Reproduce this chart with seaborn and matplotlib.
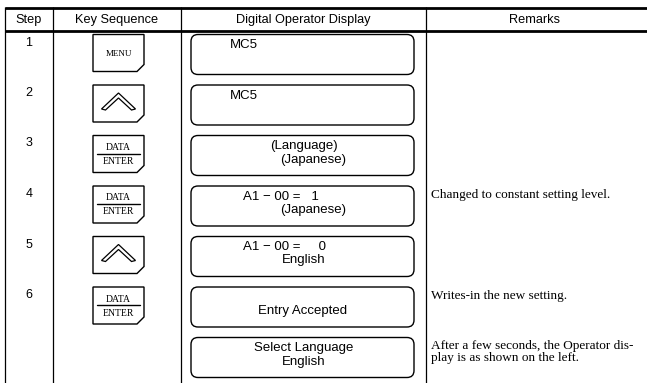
import matplotlib
matplotlib.use("Agg")
import matplotlib.pyplot as plt
import seaborn as sns
from matplotlib.patches import FancyBboxPatch, Polygon

# table content
headers = ["Step", "Key Sequence", "Digital Operator Display", "Remarks"]
steps = ["1", "2", "3", "4", "5", "6", ""]
keys = ["MENU", "UP", "DATA/ENTER", "DATA/ENTER", "UP", "DATA/ENTER", ""]
display_lines = [
    ["MC5", ""],
    ["MC5", ""],
    ["(Language)", "(Japanese)"],
    ["A1 \u2212 00 =   1", "(Japanese)"],
    ["A1 \u2212 00 =     0", "English"],
    ["", "Entry Accepted"],
    ["Select Language", "English"],
]
remarks = [
    "",
    "",
    "",
    "Changed to constant setting level.",
    "",
    "Writes-in the new setting.",
    "After a few seconds, the Operator dis-\nplay is as shown on the left.",
]

sns.set_theme(style="white")
sans = ["Liberation Sans", "DejaVu Sans"]
serif = ["Liberation Serif", "DejaVu Serif"]
plt.rcParams["font.family"] = sans

fig = plt.figure(figsize=(6.47, 3.83), dpi=100)
ax = fig.add_axes([0, 0, 1, 1])
ax.set_xlim(0, 647)
ax.set_ylim(383, 0)
ax.axis("off")

# column borders
col_x = [5, 53, 181, 426]
ax.vlines(col_x, 7, 383, color="black", lw=0.9)
ax.hlines([7.5, 31], 5, 647, color="black", lw=2.0)

head_x = [29, 117, 303, 535]
for hx, h in zip(head_x, headers):
    ax.text(hx, 20, h, ha="center", va="center", fontsize=9.2, color="black")

row_top = [34.5 + 50.5 * i for i in range(len(steps))]

# per-line horizontal placement inside the display box
line_x = [
    [(230, "left"), None],
    [(230, "left"), None],
    [(304, "center"), (313, "center")],
    [(243, "left"), (313, "center")],
    [(243, "left"), (304, "center")],
    [None, (303, "center")],
    [(304, "center"), (304, "center")],
]


def draw_key(top, kind):
    x0, x1, h, cut = 93, 144, 37, 7
    pts = [(x0, top), (x1, top), (x1, top + h - cut), (x1 - cut, top + h), (x0, top + h)]
    ax.add_patch(Polygon(pts, closed=True, fill=False, ec="black", lw=1.0))
    cx = (x0 + x1) / 2
    if kind == "MENU":
        ax.text(cx, top + 19, "MENU", ha="center", va="center", fontsize=6.5,
                family=serif, color="black")
    elif kind == "DATA/ENTER":
        ax.text(cx, top + 12, "DATA", ha="center", va="center", fontsize=7,
                family=serif, color="black")
        ax.plot([x0 + 4, x1 - 4], [top + 18, top + 18], color="black", lw=1.0)
        ax.text(cx, top + 26, "ENTER", ha="center", va="center", fontsize=7,
                family=serif, color="black")
    elif kind == "UP":
        chev = [(cx - 17, top + 24), (cx, top + 8), (cx + 17, top + 24),
                (cx + 13, top + 25), (cx, top + 13), (cx - 13, top + 25)]
        ax.add_patch(Polygon(chev, closed=True, fill=False, ec="black", lw=0.9))


for i, top in enumerate(row_top):
    if steps[i]:
        ax.text(29, top + 8, steps[i], ha="center", va="center", fontsize=9, color="black")
    if keys[i]:
        draw_key(top, keys[i])

    box = FancyBboxPatch((191, top), 223, 40,
                         boxstyle="round,pad=0,rounding_size=7",
                         fill=False, ec="black", lw=1.0)
    ax.add_patch(box)
    for j, txt in enumerate(display_lines[i]):
        if txt and line_x[i][j] is not None:
            lx, ha = line_x[i][j]
            ax.text(lx, top + 11 + 13 * j, txt, ha=ha, va="center",
                    fontsize=9.5, color="black")

    if remarks[i]:
        ax.text(431, top + 3, remarks[i], ha="left", va="top", fontsize=9.5,
                family=serif, color="black", linespacing=1.0)

fig.savefig("out.png", dpi=100)
